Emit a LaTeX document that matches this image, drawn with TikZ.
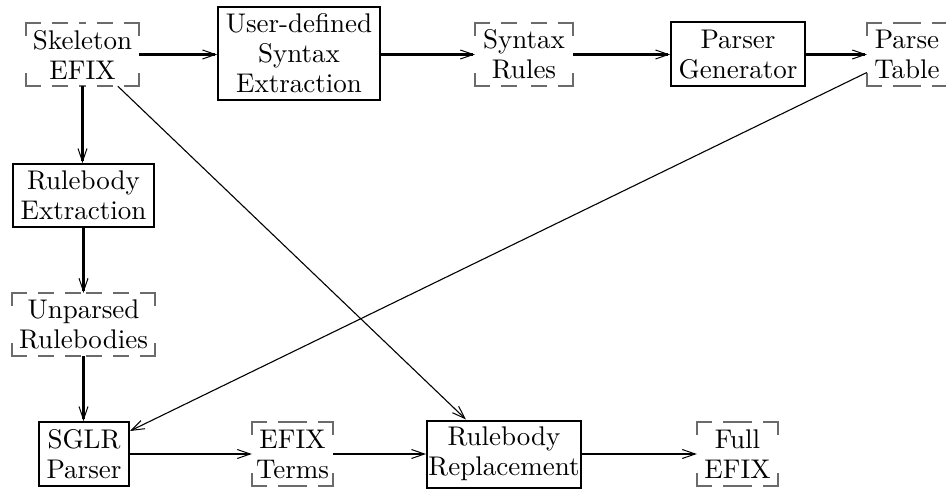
\documentclass[tikz,border=0pt]{standalone}
\usetikzlibrary{arrows.meta,calc}
\font\lmten="[lmroman10-regular]:mapping=tex-text" at 27pt
\protected\def\nodefont{\lmten\baselineskip=30pt\relax}
\tikzset{
  lbl/.style={font=\nodefont, align=center, inner sep=0pt, minimum height=63pt},
  solidbox/.style={lbl, draw, line width=2pt},
  dbox/.style={lbl},
  tipV/.tip={Straight Barb[length=13pt,width=9pt,line width=1pt 0]},
  flow/.style={line width=2.5pt, -tipV},
  diag/.style={line width=1.1pt, -tipV},
  hdash/.style={draw=black!58, line width=1.5pt, line cap=rect, dash pattern=on 14pt off 13pt},
  vdash/.style={draw=black!58, line width=1.5pt, line cap=rect, dash pattern=on 12pt off 40pt}
}
\newcommand\dframe[1]{%
  \draw[hdash] (#1.north west) -- (#1.north) (#1.north east) -- (#1.north);
  \draw[hdash] (#1.south west) -- (#1.south) (#1.south east) -- (#1.south);
  \draw[vdash] (#1.north west) -- (#1.west) (#1.south west) -- (#1.west);
  \draw[vdash] (#1.north east) -- (#1.east) (#1.south east) -- (#1.east);
}
\begin{document}
\begin{tikzpicture}[x=1pt,y=-1pt]
\useasboundingbox (0,0) rectangle (946,489);
% top row
\node[dbox, minimum width=113pt] (sk) at (82.5,54.5) {Skeleton\\EFIX};
\node[solidbox, minimum width=162pt, minimum height=93pt] (ud) at (299,53.5) {User-defined\\Syntax\\Extraction};
\node[dbox, minimum width=98pt] (sr) at (524,54.5) {Syntax\\Rules};
\node[solidbox, minimum width=134pt, minimum height=64pt] (pg) at (738,54.5) {Parser\\Generator};
\node[dbox, minimum width=80pt] (pt) at (907,54.5) {Parse\\Table};
% left column
\node[solidbox, minimum width=141pt] (rbe) at (83.5,195.5) {Rulebody\\Extraction};
\node[dbox, minimum width=143pt] (ur) at (83.5,324.5) {Unparsed\\Rulebodies};
% bottom row
\node[solidbox, minimum width=90pt, minimum height=64pt] (sg) at (84,454) {SGLR\\Parser};
\node[dbox, minimum width=81pt, minimum height=64pt] (et) at (292.5,454) {EFIX\\Terms};
\node[solidbox, minimum width=154pt, minimum height=67pt] (rr) at (504,454) {Rulebody\\Replacement};
\node[dbox, minimum width=81pt, minimum height=64pt] (fe) at (737.5,454) {Full\\EFIX};
% dashed frames
\dframe{sk}\dframe{sr}\dframe{pt}\dframe{ur}\dframe{et}\dframe{fe}
% top flow
\draw[flow] (sk.east) -- (sk.east -| ud.west);
\draw[flow] (ud.east |- sr.west) -- (sr.west);
\draw[flow] (sr.east) -- (sr.east -| pg.west);
\draw[flow] (pg.east) -- (pg.east -| pt.west);
% left column flow
\draw[flow] (sk.south) -- (sk.south |- rbe.north);
\draw[flow] (rbe.south) -- (rbe.south |- ur.north);
\draw[flow] (ur.south) -- (ur.south |- sg.north);
% bottom flow
\draw[flow] (sg.east) -- (sg.east -| et.west);
\draw[flow] (et.east) -- (et.east -| rr.west);
\draw[flow] (rr.east) -- (rr.east -| fe.west);
% diagonals
\coordinate (d1a) at ($(sk.south west)+(92,0)$);
\coordinate (d1b) at ($(rr.north west)+(40,0)$);
\coordinate (d2a) at ($(pt.west)+(0,18)$);
\coordinate (d2b) at ($(sg.east)+(0,-23)$);
\draw[diag] (d1a) -- (d1b);
\draw[diag] (d2a) -- (d2b);
\end{tikzpicture}
\end{document}
